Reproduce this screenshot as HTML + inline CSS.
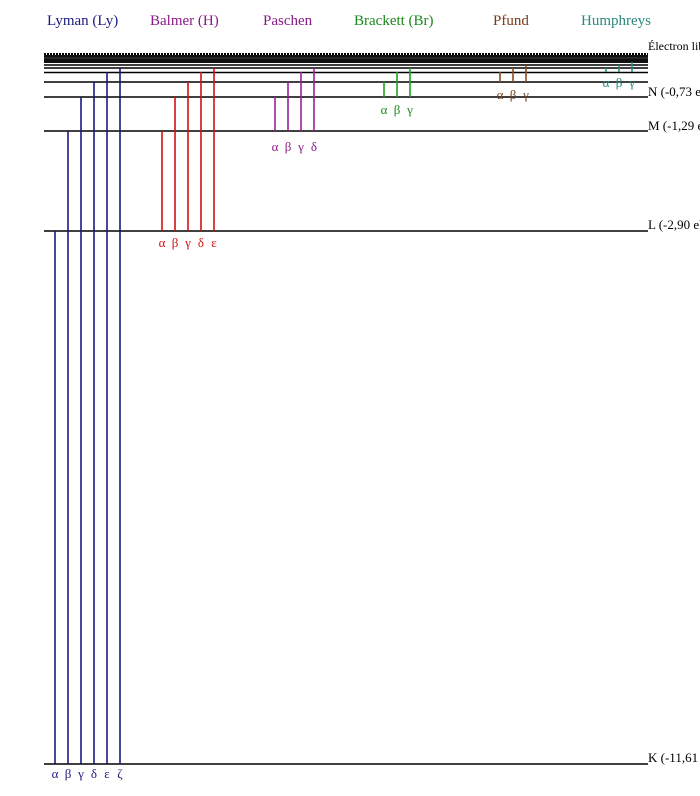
<!DOCTYPE html>
<html><head><meta charset="utf-8"><style>
html,body{margin:0;padding:0;background:#fff;overflow:hidden}
svg{display:block}
text{font-family:"Liberation Serif","DejaVu Serif",serif}
</style></head><body>
<svg width="700" height="796" viewBox="0 0 700 796" xmlns="http://www.w3.org/2000/svg">
<g font-size="15">
<text x="47" y="25" fill="#1a1a80">Lyman (Ly)</text>
<text x="150" y="25" fill="#8a1a8a">Balmer (H)</text>
<text x="263" y="25" fill="#8a1a8a">Paschen</text>
<text x="354" y="25" fill="#1a8a1a">Brackett (Br)</text>
<text x="493" y="25" fill="#7a3a1a">Pfund</text>
<text x="581" y="25" fill="#2a8a7a">Humphreys</text>
</g>
<g stroke="#000" stroke-width="1.6">
<line x1="44" y1="764" x2="648" y2="764"/>
<line x1="44" y1="231" x2="648" y2="231"/>
<line x1="44" y1="131" x2="648" y2="131"/>
<line x1="44" y1="97" x2="648" y2="97"/>
<line x1="44" y1="82" x2="648" y2="82"/>
<line x1="44" y1="72.5" x2="648" y2="72.5"/>
<line x1="44" y1="68" x2="648" y2="68"/>
<line x1="44" y1="65" x2="648" y2="65"/>
</g>
<rect x="44" y="55" width="604" height="8" fill="#111"/>
<line x1="44" y1="58" x2="648" y2="58" stroke="#666" stroke-width="0.6"/>
<line x1="44" y1="54" x2="648" y2="54" stroke="#000" stroke-width="2" stroke-dasharray="2,1"/>
<g stroke-width="1.6">
<g stroke="#1a1a80">
<line x1="55" y1="764" x2="55" y2="231"/><line x1="68" y1="764" x2="68" y2="131"/>
<line x1="81" y1="764" x2="81" y2="97"/><line x1="94" y1="764" x2="94" y2="82"/>
<line x1="107" y1="764" x2="107" y2="72"/><line x1="120" y1="764" x2="120" y2="68"/>
</g>
<g stroke="#d01010">
<line x1="162" y1="231" x2="162" y2="131"/><line x1="175" y1="231" x2="175" y2="97"/>
<line x1="188" y1="231" x2="188" y2="82"/><line x1="201" y1="231" x2="201" y2="72"/>
<line x1="214" y1="231" x2="214" y2="68"/>
</g>
<g stroke="#9a209a">
<line x1="275" y1="131" x2="275" y2="97"/><line x1="288" y1="131" x2="288" y2="82"/>
<line x1="301" y1="131" x2="301" y2="72"/><line x1="314" y1="131" x2="314" y2="68"/>
</g>
<g stroke="#20a020">
<line x1="384" y1="97" x2="384" y2="82"/><line x1="397" y1="97" x2="397" y2="72"/>
<line x1="410" y1="97" x2="410" y2="68"/>
</g>
<g stroke="#8a4a20">
<line x1="500" y1="82" x2="500" y2="72"/><line x1="513" y1="82" x2="513" y2="68"/>
<line x1="526" y1="82" x2="526" y2="65"/>
</g>
<g stroke="#2a8a7a">
<line x1="606" y1="72" x2="606" y2="68"/><line x1="619" y1="72" x2="619" y2="65"/>
<line x1="632" y1="72" x2="632" y2="62"/>
</g>
</g>
<g font-size="13" text-anchor="middle">
<g fill="#1a1a80"><text x="55" y="778">α</text><text x="68" y="778">β</text><text x="81" y="778">γ</text><text x="94" y="778">δ</text><text x="107" y="778">ε</text><text x="120" y="778">ζ</text></g>
<g fill="#d01010"><text x="162" y="247">α</text><text x="175" y="247">β</text><text x="188" y="247">γ</text><text x="201" y="247">δ</text><text x="214" y="247">ε</text></g>
<g fill="#8a1a8a"><text x="275" y="151">α</text><text x="288" y="151">β</text><text x="301" y="151">γ</text><text x="314" y="151">δ</text></g>
<g fill="#1a8a1a"><text x="384" y="114">α</text><text x="397" y="114">β</text><text x="410" y="114">γ</text></g>
<g fill="#7a3a1a"><text x="500" y="99">α</text><text x="513" y="99">β</text><text x="526" y="99">γ</text></g>
<g fill="#2a8a7a"><text x="606" y="87">α</text><text x="619" y="87">β</text><text x="632" y="87">γ</text></g>
</g>
<g font-size="13" fill="#000">
<text x="648" y="50" font-size="12">Électron libre</text>
<text x="648" y="96">N (-0,73 eV)</text>
<text x="648" y="130">M (-1,29 eV)</text>
<text x="648" y="229">L (-2,90 eV)</text>
<text x="648" y="762">K (-11,61 eV)</text>
</g>
</svg>
</body></html>
